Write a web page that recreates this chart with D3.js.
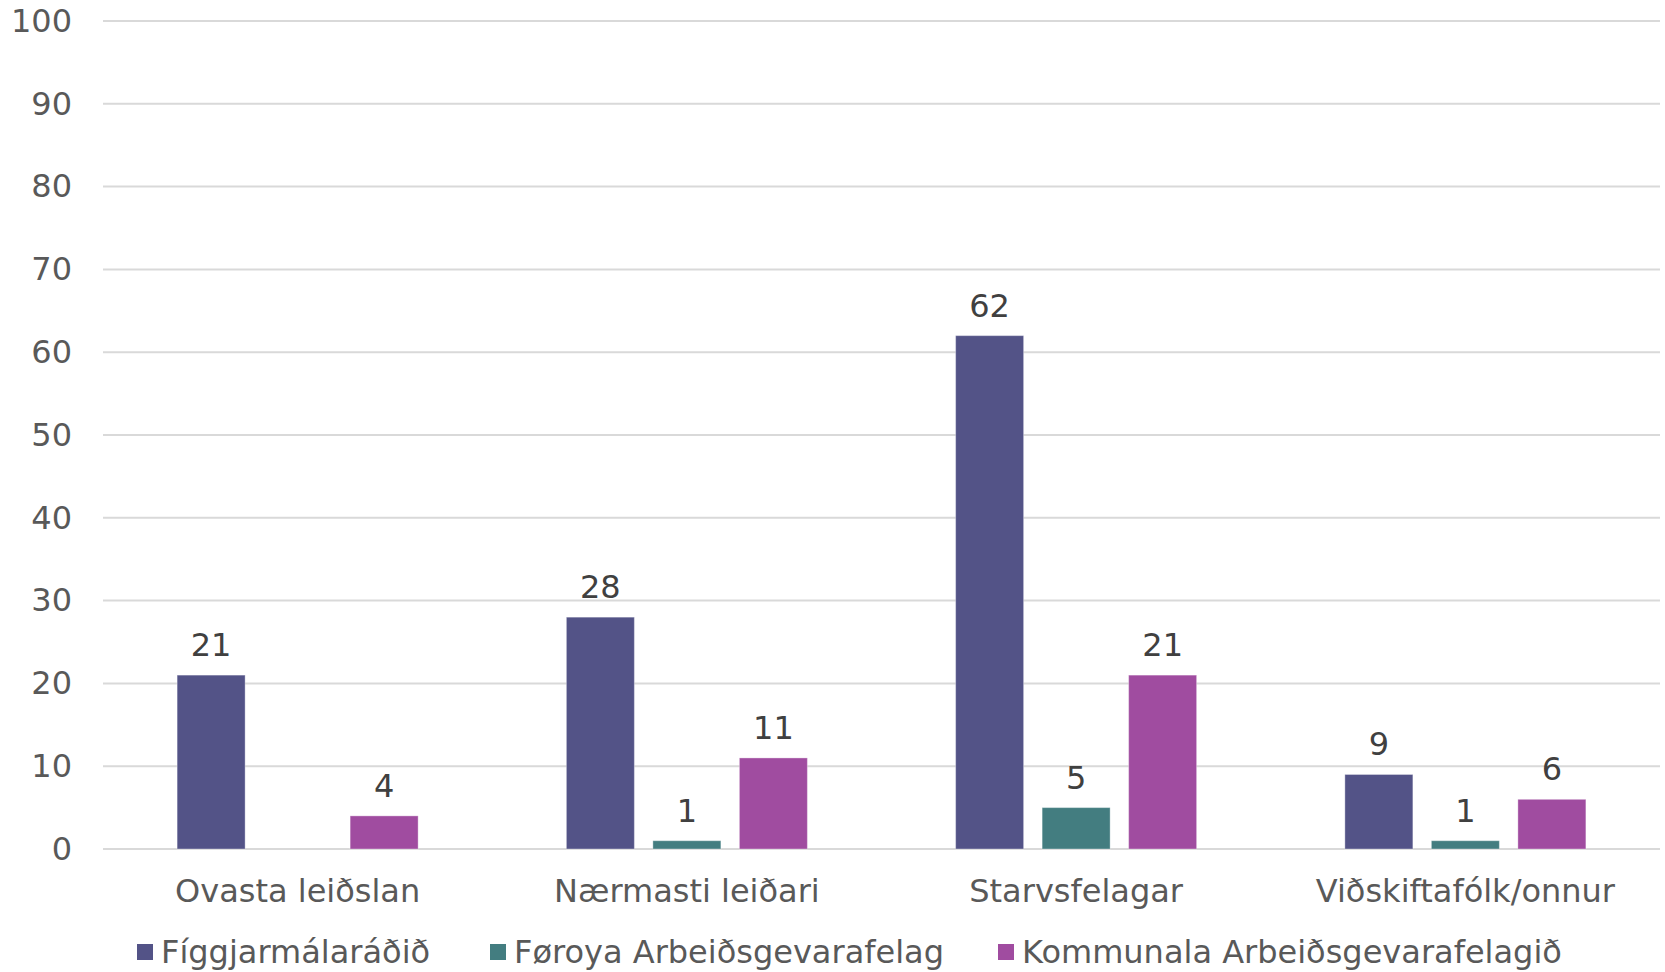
<!DOCTYPE html>
<html>
<head>
<meta charset="utf-8">
<script src="https://cdn.jsdelivr.net/npm/d3@7"></script>
<style>
  body { margin: 0; background: #fff; }
  svg { display: block; font-family: "DejaVu Sans", Verdana, sans-serif; }
</style>
</head>
<body>
<svg id="chart"></svg>
<script>
var categories = ["Ovasta leiðslan", "Nærmasti leiðari", "Starvsfelagar", "Viðskiftafólk/onnur"];
var series = ["Fíggjarmálaráðið", "Føroya Arbeiðsgevarafelag", "Kommunala Arbeiðsgevarafelagið"];
var figgValues = [21, 28, 62, 9];
var farValues = [null, 1, 5, 1];
var kafValues = [4, 11, 21, 6];
var yTicks = [0, 10, 20, 30, 40, 50, 60, 70, 80, 90, 100];

var colors = ["#535387", "#437d80", "#a04ca0"];
var valuesBySeries = [figgValues, farValues, kafValues];

var width = 1665, height = 972;
var margin = {top: 21, right: 5, bottom: 123, left: 103};

var svg = d3.select("#chart")
    .attr("width", width)
    .attr("height", height);

var innerW = width - margin.left - margin.right,
    innerH = height - margin.top - margin.bottom;

var g = svg.append("g")
    .attr("transform", "translate(" + margin.left + "," + margin.top + ")");

var x0 = d3.scaleBand().domain(categories).range([0, innerW]).padding(0);
var x1 = d3.scaleBand().domain(series).range([-120.5, 120.5]).paddingInner(0.214).paddingOuter(0);
var y = d3.scaleLinear().domain([0, 100]).range([innerH, 0]);

// gridlines
g.append("g")
    .selectAll("line")
    .data(yTicks)
    .enter().append("line")
    .attr("x1", 0)
    .attr("x2", innerW)
    .attr("y1", function(d) { return y(d); })
    .attr("y2", function(d) { return y(d); })
    .attr("stroke", "#d9d9d9")
    .attr("stroke-width", 2);

// y axis labels
var yAxis = g.append("g")
    .call(d3.axisLeft(y).tickValues(yTicks).tickSize(0).tickPadding(31));
yAxis.select(".domain").remove();
yAxis.selectAll("text")
    .attr("fill", "#595959")
    .style("font-size", "32px")
    .style("font-family", "DejaVu Sans, Verdana, sans-serif");

// x axis labels
var xAxis = g.append("g")
    .attr("transform", "translate(0," + innerH + ")")
    .call(d3.axisBottom(x0).tickSize(0).tickPadding(30));
xAxis.select(".domain").remove();
xAxis.selectAll("text")
    .attr("fill", "#595959")
    .style("font-size", "32px")
    .style("font-family", "DejaVu Sans, Verdana, sans-serif");

// bars
var rows = [];
categories.forEach(function(c, i) {
    series.forEach(function(s, j) {
        rows.push({cat: c, ser: s, idx: j, value: valuesBySeries[j][i]});
    });
});
rows = rows.filter(function(d) { return d.value != null; });

var bars = g.append("g");
bars.selectAll("rect")
    .data(rows)
    .enter().append("rect")
    .attr("x", function(d) { return x0(d.cat) + x0.bandwidth() / 2 + x1(d.ser); })
    .attr("y", function(d) { return y(d.value); })
    .attr("width", x1.bandwidth())
    .attr("height", function(d) { return innerH - y(d.value); })
    .attr("fill", function(d) { return colors[d.idx]; })
    .attr("stroke", "rgba(255,255,255,0.35)")
    .attr("stroke-width", 1);

bars.selectAll("text")
    .data(rows)
    .enter().append("text")
    .attr("x", function(d) { return x0(d.cat) + x0.bandwidth() / 2 + x1(d.ser) + x1.bandwidth() / 2; })
    .attr("y", function(d) { return y(d.value) - 19; })
    .attr("text-anchor", "middle")
    .attr("fill", "#404040")
    .style("font-size", "32px")
    .text(function(d) { return d.value; });

// legend
var legendX = [137, 490, 998];
var legend = svg.append("g")
    .attr("transform", "translate(0,952)");
var item = legend.selectAll("g")
    .data(series)
    .enter().append("g")
    .attr("transform", function(d, i) { return "translate(" + legendX[i] + ",0)"; });
item.append("rect")
    .attr("x", 0)
    .attr("y", -8)
    .attr("width", 16)
    .attr("height", 16)
    .attr("fill", function(d, i) { return colors[i]; });
item.append("text")
    .attr("x", 24)
    .attr("y", 0)
    .attr("dy", "0.35em")
    .attr("fill", "#595959")
    .style("font-size", "32px")
    .text(function(d) { return d; });
</script>
</body>
</html>
